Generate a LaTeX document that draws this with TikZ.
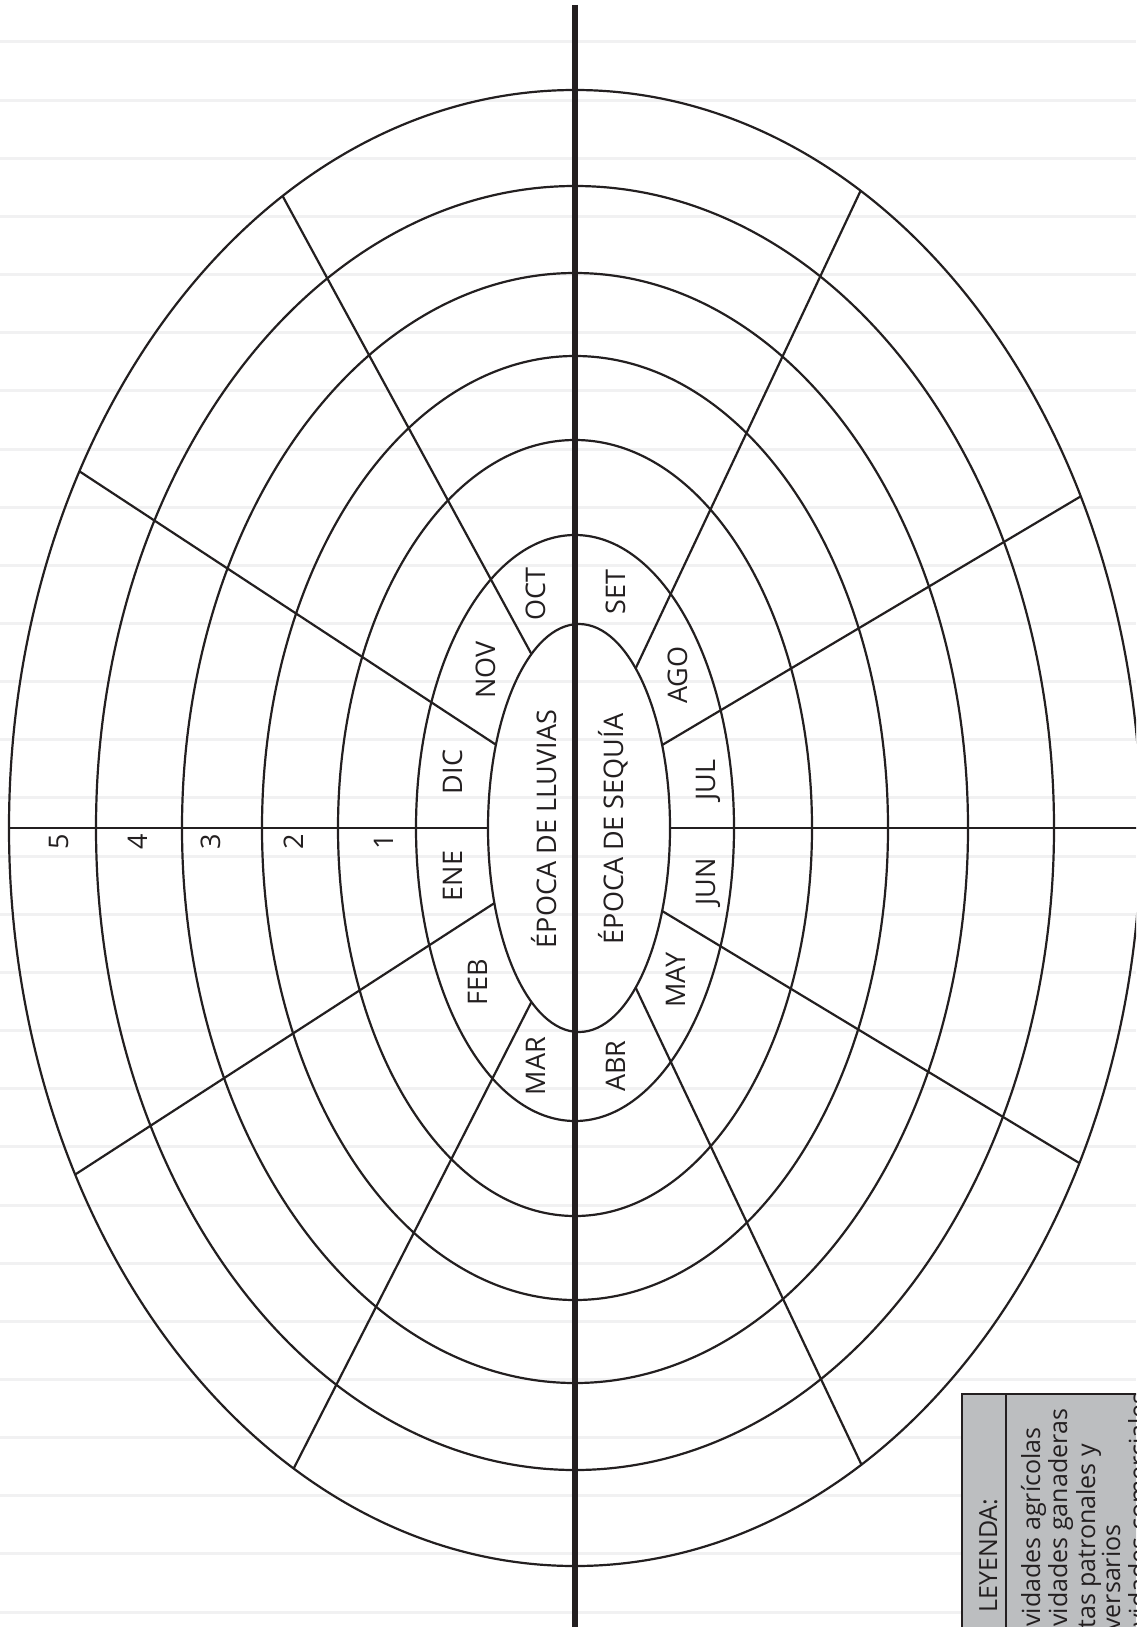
\documentclass[tikz,border=0pt]{standalone}
\usepackage{fontspec}
\newfontfamily\osans{Open Sans}
\definecolor{ink}{HTML}{231F20}
\definecolor{rulegray}{HTML}{F1F1F2}
\definecolor{legfill}{HTML}{BCBEC0}
\begin{document}
\begin{tikzpicture}[x=0.5pt,y=-0.5pt,
  ring/.style={draw=ink,line width=1.1pt},
  spoke/.style={draw=ink,line width=1.1pt},
  axis/.style={draw=ink,line width=2.6pt},
  ruleline/.style={draw=rulegray,line width=1.5pt},
  lab/.style={font=\osans\fontsize{13.5pt}{16pt}\selectfont,text=ink,rotate=90,anchor=base,inner sep=0pt},
  legtxt/.style={font=\osans\fontsize{12.5pt}{15pt}\selectfont,text=ink,rotate=90,anchor=base west,inner sep=0pt}]
\useasboundingbox (0,0) rectangle (1136,1627);
\clip (0,0) rectangle (1136,1627);
\fill[white] (0,0) rectangle (1136,1627);
% faint ruled lines of the page
\foreach \n in {0,...,27}
  \draw[ruleline] (0,{42+58.15*\n}) -- (1136,{42+58.15*\n});
% concentric ellipses
\coordinate (c) at (575,828);
\coordinate (c0) at (579,828);
\draw[ring] (c0) ellipse [x radius={91*0.5pt}, y radius={204*0.5pt}];
\foreach \a/\b in {159/293,237/388,313/472,393/555,479/642,566/738}
  \draw[ring] (c) ellipse [x radius={\a*0.5pt}, y radius={\b*0.5pt}];
% spokes: inner end on ellipse 0, outer end on ellipse 6
\foreach \i/\ti/\to in {1/-121.5/-121.1, 2/-155.9/-151.1, 3/180/180, 4/158.4/152, 5/121.5/119.8,
                        6/-51.5/-59.7, 7/-24/-26.7, 9/24/27, 10/51.5/59.6}{
  \coordinate (in\i) at ({579+91*cos(\ti)},{828+204*sin(\ti)});
  \coordinate (out\i) at ({575+566*cos(\to)},{828+738*sin(\to)});
  \draw[spoke] (in\i) -- (out\i);
}
\coordinate (in8) at (670,828);
\coordinate (out8) at (1145,828);
\draw[spoke] (in8) -- (out8);
% central axis
\coordinate (axtop) at (575,5);
\coordinate (axbot) at (575,1640);
\draw[axis] (axtop) -- (axbot);
% season labels
\node[lab] (lluvias) at (556,829) {ÉPOCA DE LLUVIAS};
\node[lab] (sequia) at (623,829) {ÉPOCA DE SEQUÍA};
% months
\node[lab] (oct) at (545,594) {OCT};
\node[lab] (nov) at (495,670) {NOV};
\node[lab] (dic) at (462,772) {DIC};
\node[lab] (ene) at (462,876) {ENE};
\node[lab] (feb) at (487,982) {FEB};
\node[lab] (mar) at (545,1066) {MAR};
\node[lab] (set) at (625,592) {SET};
\node[lab] (ago) at (687,675) {AGO};
\node[lab] (jul) at (715,780) {JUL};
\node[lab] (jun) at (715,882) {JUN};
\node[lab] (may) at (685,980) {MAY};
\node[lab] (abr) at (625,1066) {ABR};
% scale numbers
\node[lab] (n5) at (68,842) {5};
\node[lab] (n4) at (147,842) {4};
\node[lab] (n3) at (220,842) {3};
\node[lab] (n2) at (303,842) {2};
\node[lab] (n1) at (393,842) {1};
% legend
\fill[legfill,draw=ink,line width=1pt] (962,1394) rectangle (1160,1650);
\draw[ink,line width=1.4pt] (1006,1394) -- (1006,1650);
\node[legtxt] (ley) at (997,1613) {LEYENDA:};
\node[legtxt] (l1) at (1040,1627) {vidades agrícolas};
\node[legtxt] (l2) at (1067,1627) {vidades ganaderas};
\node[legtxt] (l3) at (1095,1629) {tas patronales y};
\node[legtxt] (l4) at (1120,1631) {versarios};
\node[legtxt] (l5) at (1147,1627) {vidades comerciales};
\end{tikzpicture}
\end{document}
